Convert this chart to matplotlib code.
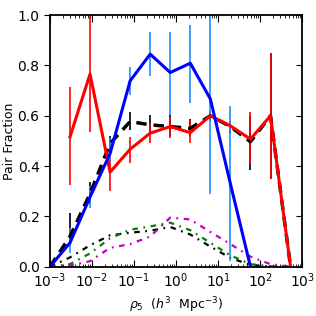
import matplotlib.pyplot as plt
import matplotlib.lines as mlines
import numpy as np

# density bins (rho_5, h^3 Mpc^-3)
rho = [0.001, 0.003, 0.009, 0.027, 0.081, 0.243, 0.729, 2.187, 6.561, 19.68, 59.05, 177.1, 531.4]
xticks = [1e-3, 1e-2, 1e-1, 1e0, 1e1, 1e2, 1e3]

# blue: solid line with light blue error bars
blue_x = rho[:11]
blue_y = [0.0, 0.095, 0.277, 0.45, 0.739, 0.845, 0.772, 0.809, 0.667, 0.33, 0.0]
blue_lo = [np.nan, 0.053, 0.235, 0.418, 0.683, 0.759, 0.603, 0.652, 0.288, 0.024, np.nan]
blue_hi = [np.nan, 0.153, 0.321, 0.511, 0.792, 0.932, 0.934, 0.961, 1.05, 0.639, np.nan]

# red: solid line with red error bars
red_x = rho[1:]
red_y = [0.516, 0.766, 0.376, 0.467, 0.531, 0.557, 0.533, 0.60, 0.56, 0.507, 0.60, 0.0]
red_lo = [0.325, 0.536, 0.30, 0.414, 0.49, 0.51, 0.49, 0.58, 0.54, 0.408, 0.348, np.nan]
red_hi = [0.715, 1.05, 0.45, 0.517, 0.57, 0.597, 0.583, 0.62, 0.58, 0.617, 0.851, np.nan]

# black dashed with black error bars
blk_y = [0.0, 0.12, 0.29, 0.49, 0.577, 0.564, 0.557, 0.55, 0.60, 0.557, 0.497, 0.60, 0.0]
blk_lo = [np.nan, 0.10, 0.25, 0.46, 0.545, 0.53, 0.52, 0.52, 0.58, 0.53, 0.385, 0.35, np.nan]
blk_hi = [np.nan, 0.212, 0.338, 0.52, 0.617, 0.603, 0.603, 0.586, 0.62, 0.58, 0.6, 0.85, np.nan]

# thin dash-dot curves
dd_black = [0.0, 0.037, 0.085, 0.125, 0.135, 0.143, 0.158, 0.128, 0.08, 0.035, 0.007, 0.0, 0.0]
dd_green = [0.0, 0.01, 0.053, 0.113, 0.147, 0.16, 0.175, 0.145, 0.095, 0.045, 0.01, 0.002, 0.0]
dd_magenta = [0.0, 0.005, 0.022, 0.075, 0.09, 0.12, 0.195, 0.188, 0.138, 0.09, 0.04, 0.01, 0.0]


def yerr(y, lo, hi):
    y = np.array(y)
    return [y - np.array(lo), np.array(hi) - y]


fig = plt.figure(figsize=(3.16, 3.16), dpi=100)
ax = fig.add_axes([0.158, 0.156, 0.798, 0.796])

dd = (0, (2.5, 2.5, 0.8, 2.5))
ax.plot(rho, dd_black, color='k', lw=1.6, linestyle=dd)
ax.plot(rho, dd_green, color='g', lw=1.6, linestyle=dd)
ax.plot(rho, dd_magenta, color='m', lw=1.6, linestyle=dd)

ax.errorbar(rho, blk_y, yerr=yerr(blk_y, blk_lo, blk_hi), color='k', lw=2.5,
            dashes=(3, 2), ecolor='k', elinewidth=1.2, capsize=0)
ax.errorbar(red_x, red_y, yerr=yerr(red_y, red_lo, red_hi), color='r', lw=2.2,
            ecolor='r', elinewidth=1.2, capsize=0)
ax.errorbar(blue_x, blue_y, yerr=yerr(blue_y, blue_lo, blue_hi), color='b', lw=2.2,
            ecolor='#1e90ff', elinewidth=1.2, capsize=0)

ax.set_xscale('log')
ax.set_xticks(xticks)
ax.set_xlim(1e-3, 1e3)
ax.set_ylim(0, 1.0)
ax.set_yticks([0.0, 0.2, 0.4, 0.6, 0.8, 1.0])
ax.set_ylabel('Pair Fraction', fontsize=9)
ax.yaxis.set_label_coords(-0.135, 0.5)
ax.set_xlabel(r'$\rho_5\ \ (h^3\ \ \mathrm{Mpc}^{-3})$', fontsize=9)

ax.tick_params(axis='x', which='both', direction='in', top=True, labelsize=10)
ax.tick_params(axis='x', which='major', length=5)
ax.tick_params(axis='x', which='minor', length=2.5)
ax.tick_params(axis='y', which='major', direction='out', right=True, length=4, labelsize=10)

# left ticks point out, right ticks point in
for t in ax.yaxis.get_major_ticks():
    t.tick2line.set_marker(mlines.TICKLEFT)

for s in ax.spines.values():
    s.set_linewidth(1.3)

plt.savefig('out.png', dpi=100)
